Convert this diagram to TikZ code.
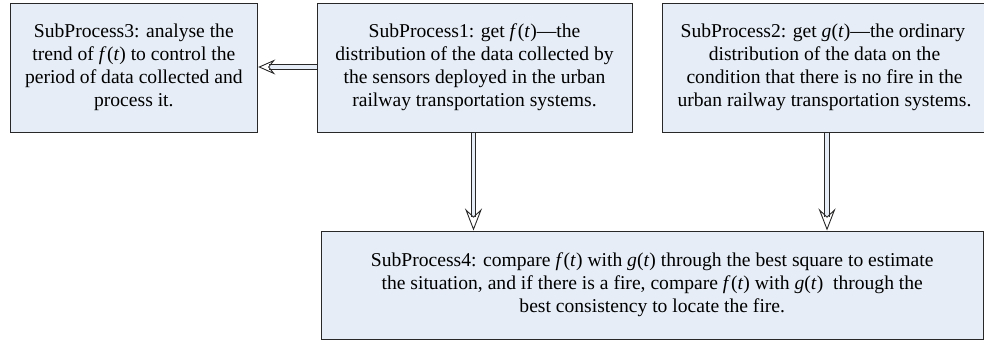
\documentclass[tikz,border=0pt]{standalone}
\usepackage{fontspec}
\setmainfont{Liberation Serif}
\usetikzlibrary{arrows.meta}
\definecolor{boxfill}{RGB}{230,237,246}
\definecolor{boxline}{RGB}{40,40,40}
\tikzset{
  procbox/.style={draw=boxline, line width=1pt, fill=boxfill, align=center,
    font=\fontsize{19.6}{23}\selectfont, inner sep=0pt},
  dblarrow/.style={draw=boxline, line width=0.8pt, double=boxfill, double distance=3.6pt,
    -{Stealth[open, length=22pt, width=17pt, inset=8pt, line width=0.9pt]}},
  dblarrowh/.style={dblarrow,
    -{Stealth[open, length=17pt, width=15pt, inset=6pt, line width=0.9pt]}}
}
\newcommand{\fm}{\textit{f}\kern0.5pt(\textit{t})}
\newcommand{\gm}{\textit{g}(\textit{t})}
\begin{document}
\begin{tikzpicture}[x=1pt,y=-1pt]
\useasboundingbox (0,0) rectangle (984,343);
\node[procbox, minimum width=247.7pt, minimum height=129pt] (p3) at (133.85,67.5)
  {SubProcess3: analyse the\\ trend of \fm{} to control the\\ period of data collected and\\ process it.};
\node[procbox, minimum width=315pt, minimum height=129pt] (p1) at (474.5,67.5)
  {SubProcess1: get \fm{}---the\\ distribution of the data collected by\\ the sensors deployed in the urban\\ railway transportation systems.};
\node[procbox, minimum width=324pt, minimum height=129pt, anchor=west] (p2) at (662,67.5)
  {\hspace*{-3pt}SubProcess2: get \gm{}---the ordinary\\ distribution of the data on the\\ condition that there is no fire in the\\ urban railway transportation systems.};
\node[procbox, minimum width=662.5pt, minimum height=108pt] (p4) at (652.25,285)
  {SubProcess4: compare \fm{} with \gm{} through the best square to estimate\\ the situation, and if there is a fire, compare \fm{} with \gm{}\ \ through the\\ best consistency to locate the fire.};
\coordinate (a1) at (473.5,0);
\coordinate (a2) at (827,0);
\draw[dblarrowh] (p1.west |- 0,67) -- (p3.east |- 0,67);
\draw[dblarrow] (a1 |- p1.south) -- (a1 |- p4.north);
\draw[dblarrow] (a2 |- p2.south) -- (a2 |- p4.north);
\end{tikzpicture}
\end{document}
